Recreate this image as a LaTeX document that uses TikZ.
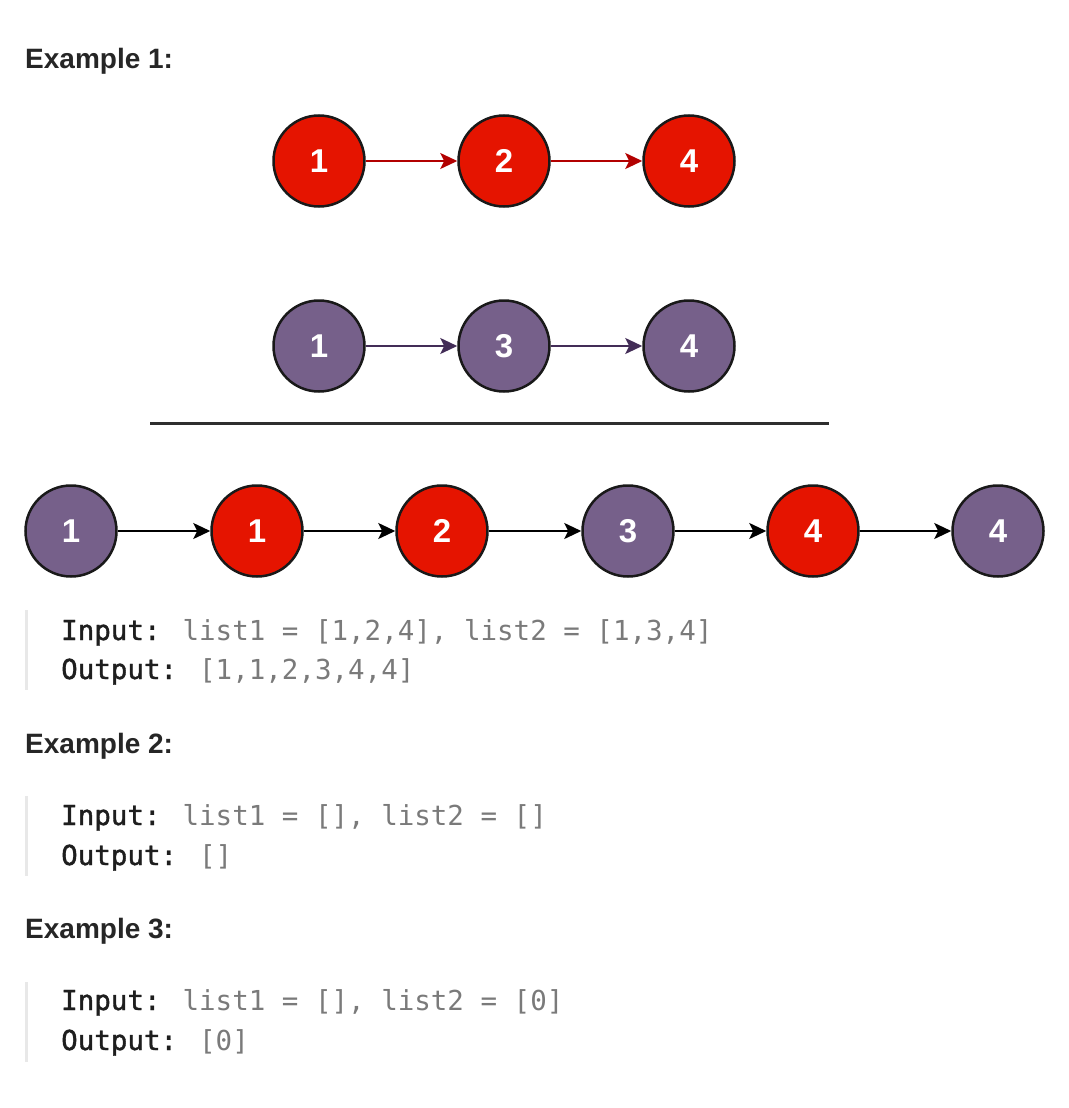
\documentclass[tikz,border=0pt]{standalone}
\usepackage{fontspec}
\setmainfont{Liberation Sans}
\newfontfamily\monofont{DejaVu Sans Mono}
\newfontfamily\monolabel[FakeBold=1.3]{DejaVu Sans Mono}
\usetikzlibrary{arrows.meta}
\definecolor{nodered}{HTML}{E51400}
\definecolor{nodepurple}{HTML}{76608A}
\definecolor{arrred}{HTML}{B20000}
\definecolor{arrpurple}{HTML}{432D57}
\definecolor{labelc}{HTML}{1E1E1E}
\definecolor{headc}{HTML}{262626}
\definecolor{valc}{HTML}{7A7A7A}
\definecolor{barc}{HTML}{E8E8E8}
\definecolor{rulec}{HTML}{2E2E2E}
\tikzset{
  lnode/.style={circle, minimum size=91pt, inner sep=0pt, line width=2.5pt, draw=black!90,
    text=white, font=\fontsize{33}{33}\selectfont\bfseries},
  rednode/.style={lnode, fill=nodered},
  purnode/.style={lnode, fill=nodepurple},
  arr/.style={line width=2pt, -{Stealth[length=17pt, width=16pt, inset=4pt]}},
  heading/.style={anchor=base west, inner sep=0pt, text=headc, font=\fontsize{28}{30}\selectfont\bfseries},
  codeline/.style={anchor=base west, inner sep=0pt, font=\monofont\fontsize{27.5}{33}\selectfont},
  qbar/.style={line width=3.5pt, draw=barc},
}
\newcommand{\lbl}[1]{\textcolor{labelc}{\monolabel #1}}
\newcommand{\val}[1]{\textcolor{valc}{#1}}
\begin{document}
\begin{tikzpicture}[x=1pt,y=-1pt]
\useasboundingbox (0,0) rectangle (1068,1108);
% Example 1
\node[heading] (h1) at (25,69) {Example 1:};
\node[rednode] (a1) at (319,161) {1};
\node[rednode] (a2) at (504,161) {2};
\node[rednode] (a3) at (689,161) {4};
\draw[arr, arrred] (a1) -- (a2);
\draw[arr, arrred] (a2) -- (a3);
\node[purnode] (b1) at (319,346) {1};
\node[purnode] (b2) at (504,346) {3};
\node[purnode] (b3) at (689,346) {4};
\draw[arr, arrpurple] (b1) -- (b2);
\draw[arr, arrpurple] (b2) -- (b3);
\coordinate (rl) at (150,423);
\coordinate (rr) at (829,423);
\draw[line width=3pt, rulec] (rl) -- (rr);
\node[purnode] (c1) at (71,531) {1};
\node[rednode] (c2) at (257,531) {1};
\node[rednode] (c3) at (442,531) {2};
\node[purnode] (c4) at (628,531) {3};
\node[rednode] (c5) at (813,531) {4};
\node[purnode] (c6) at (998,531) {4};
\draw[arr] (c1) -- (c2);
\draw[arr] (c2) -- (c3);
\draw[arr] (c3) -- (c4);
\draw[arr] (c4) -- (c5);
\draw[arr] (c5) -- (c6);
\coordinate (q1t) at (26.5,610);
\coordinate (q1b) at (26.5,690);
\draw[qbar] (q1t) -- (q1b);
\node[codeline] (in1) at (61,640) {\lbl{Input:} \val{list1 = [1,2,4], list2 = [1,3,4]}};
\node[codeline] (out1) at (61,679) {\lbl{Output:} \val{[1,1,2,3,4,4]}};
% Example 2
\node[heading] (h2) at (25,753) {Example 2:};
\coordinate (q2t) at (26.5,796);
\coordinate (q2b) at (26.5,876);
\draw[qbar] (q2t) -- (q2b);
\node[codeline] (in2) at (61,825) {\lbl{Input:} \val{list1 = [], list2 = []}};
\node[codeline] (out2) at (61,865) {\lbl{Output:} \val{[]}};
% Example 3
\node[heading] (h3) at (25,938) {Example 3:};
\coordinate (q3t) at (26.5,982);
\coordinate (q3b) at (26.5,1062);
\draw[qbar] (q3t) -- (q3b);
\node[codeline] (in3) at (61,1010) {\lbl{Input:} \val{list1 = [], list2 = [0]}};
\node[codeline] (out3) at (61,1050) {\lbl{Output:} \val{[0]}};
\end{tikzpicture}
\end{document}
